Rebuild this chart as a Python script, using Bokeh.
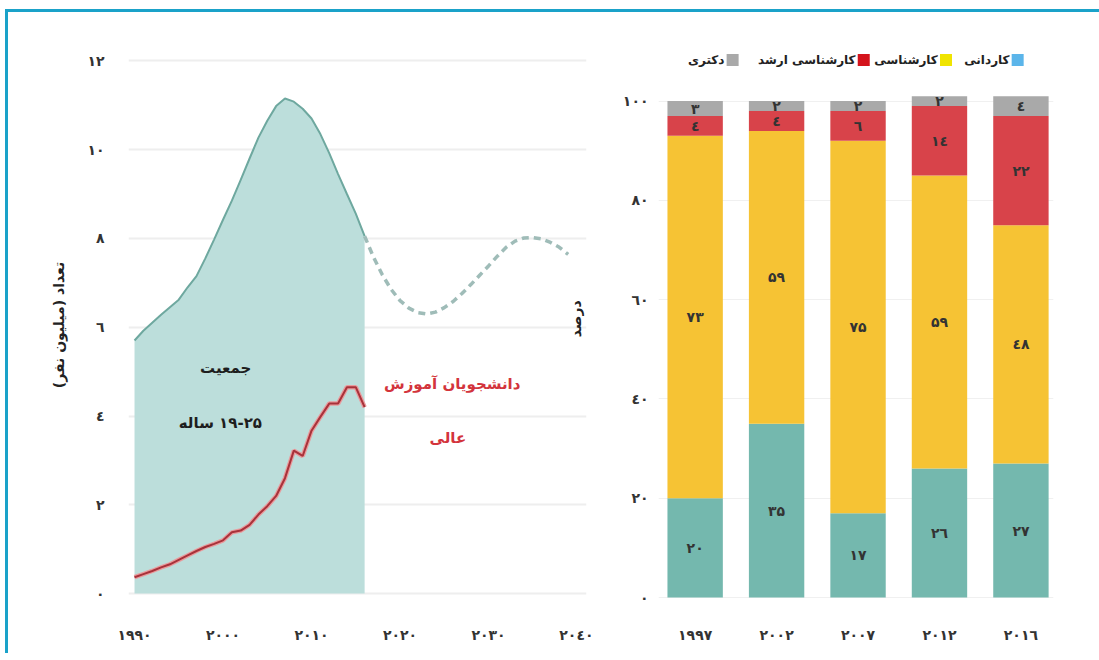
from bokeh.plotting import figure
from bokeh.layouts import row
from bokeh.models import Range1d, FixedTicker, Label, ColumnDataSource
from bokeh.embed import file_html
from bokeh.resources import INLINE
from bokeh.core.properties import value

# ---------------- data: left panel ----------------
years_hist = list(range(1990, 2017))
pop_hist = [5.70, 5.92, 6.10, 6.28, 6.45, 6.62, 6.90, 7.15, 7.55, 7.98,
            8.42, 8.85, 9.32, 9.80, 10.27, 10.65, 10.98, 11.15, 11.08, 10.92,
            10.70, 10.35, 9.92, 9.45, 9.00, 8.56, 8.05]
students = [0.37, 0.44, 0.51, 0.59, 0.66, 0.76, 0.86, 0.96, 1.05, 1.12,
            1.20, 1.38, 1.42, 1.55, 1.78, 1.97, 2.20, 2.60, 3.22, 3.10,
            3.67, 3.98, 4.28, 4.28, 4.65, 4.65, 4.20]
years_proj = list(range(2016, 2040))
pop_proj = [8.05, 7.58, 7.18, 6.85, 6.60, 6.43, 6.33, 6.30, 6.34, 6.44,
            6.58, 6.76, 6.96, 7.17, 7.38, 7.60, 7.80, 7.94, 8.01, 8.02,
            7.99, 7.91, 7.80, 7.64]
left_xticks = [1990, 2000, 2010, 2020, 2030, 2040]
left_xlabels = ["۱۹۹۰", "۲۰۰۰", "۲۰۱۰", "۲۰۲۰", "۲۰۳۰", "۲۰٤۰"]
left_yticks = [0, 2, 4, 6, 8, 10, 12]
left_ylabels = ["۰", "۲", "٤", "٦", "۸", "۱۰", "۱۲"]

# ---------------- data: right panel ----------------
bar_years = ["۱۹۹۷", "۲۰۰۲", "۲۰۰۷", "۲۰۱۲", "۲۰۱٦"]
kardani = [20, 35, 17, 26, 27]
karshenasi = [73, 59, 75, 59, 48]
arshad = [4, 4, 6, 14, 22]
doktora = [3, 2, 2, 2, 4]
series_names = ["کاردانی", "کارشناسی", "کارشناسی ارشد", "دکتری"]
right_yticks = [0, 20, 40, 60, 80, 100]
right_ylabels = ["۰", "۲۰", "٤۰", "٦۰", "۸۰", "۱۰۰"]

FA = "DejaVu Sans"
RLM = "\u200f"

def fa_num(n):
    digits = "۰۱۲۳٤۵٦۷۸۹"
    return "".join(digits[int(c)] for c in str(n))

# ---------------- left figure ----------------
p1 = figure(width=585, height=641, output_backend="svg", toolbar_location=None,
            x_range=Range1d(1989.32, 2041.07), y_range=Range1d(-0.2, 12.3),
            min_border_left=120, min_border_right=7, min_border_top=35,
            min_border_bottom=51)
p1.outline_line_color = None
p1.background_fill_color = "white"
p1.border_fill_color = "white"

p1.varea(x=years_hist, y1=[0] * len(years_hist), y2=pop_hist,
         fill_color="#bcdedb", fill_alpha=1.0)
p1.line(years_hist, pop_hist, line_color="#6ea89f", line_width=2)
p1.line(years_proj, pop_proj, line_color="#9fbcb8", line_width=3.5,
        line_dash="7 5")
p1.line(years_hist, students, line_color="#e99a9c", line_width=4.5)
p1.line(years_hist, students, line_color="#a8323a", line_width=2)

p1.xaxis.ticker = FixedTicker(ticks=left_xticks)
p1.xaxis.major_label_overrides = dict(zip(left_xticks, left_xlabels))
p1.yaxis.ticker = FixedTicker(ticks=left_yticks)
p1.yaxis.major_label_overrides = dict(zip(left_yticks, left_ylabels))
for ax in (p1.xaxis[0], p1.yaxis[0]):
    ax.axis_line_color = None
    ax.major_tick_line_color = None
    ax.minor_tick_line_color = None
    ax.major_label_text_font = FA
    ax.major_label_text_font_size = "14px"
    ax.major_label_text_font_style = "bold"
    ax.major_label_text_color = "#333333"
p1.xaxis.major_label_standoff = 18
p1.yaxis.major_label_standoff = 18
p1.yaxis.axis_label = RLM + "تعداد (میلیون نفر)" + RLM
p1.yaxis.axis_label_text_font = FA
p1.yaxis.axis_label_text_font_size = "14px"
p1.yaxis.axis_label_text_font_style = "bold"
p1.yaxis.axis_label_text_color = "#222222"
p1.yaxis.axis_label_standoff = 17
p1.xgrid.grid_line_color = None
p1.ygrid.grid_line_color = "#eeeeee"
p1.ygrid.grid_line_width = 2

p1.add_layout(Label(x=2000.3, y=5.09, text="جمعیت", text_font=FA,
                    text_font_size="15px", text_font_style="bold",
                    text_color="#1e1e1e", text_align="center",
                    text_baseline="middle"))
p1.add_layout(Label(x=1999.7, y=3.85, text=RLM + "۱۹-۲۵ ساله", text_font=FA,
                    text_font_size="15px", text_font_style="bold",
                    text_color="#1e1e1e", text_align="center",
                    text_baseline="middle"))
p1.add_layout(Label(x=2025.9, y=4.73, text="دانشجویان آموزش", text_font=FA,
                    text_font_size="15px", text_font_style="bold",
                    text_color="#d3343c", text_align="center",
                    text_baseline="middle"))
p1.add_layout(Label(x=2025.4, y=3.51, text="عالی", text_font=FA,
                    text_font_size="15px", text_font_style="bold",
                    text_color="#d3343c", text_align="center",
                    text_baseline="middle"))
p1.add_layout(Label(x=2039.83, y=6.19, text="درصد", text_font=FA,
                    text_font_size="14px", text_font_style="bold",
                    text_color="#222222", text_align="center",
                    text_baseline="middle", angle=1.5708))

# ---------------- right figure ----------------
xs = list(range(len(bar_years)))
src = ColumnDataSource(dict(x=xs, kardani=kardani, karshenasi=karshenasi,
                            arshad=arshad, doktora=doktora))
stack_keys = ["kardani", "karshenasi", "arshad", "doktora"]
bar_colors = ["#74b8ae", "#f6c334", "#d8434a", "#a9a9a9"]
legend_colors = ["#5bb5ea", "#f0e400", "#d4141c", "#a9a9a9"]

p2 = figure(width=506, height=641, output_backend="svg", toolbar_location=None,
            x_range=Range1d(-0.45, 4.4), y_range=Range1d(-1.0, 110.8),
            min_border_left=65, min_border_right=46, min_border_top=35,
            min_border_bottom=51)
p2.outline_line_color = None
p2.background_fill_color = "white"
p2.border_fill_color = "white"

p2.vbar_stack(stack_keys, x="x", width=0.68, color=bar_colors, source=src,
              line_color=None)

# value labels at the middle of every segment
lab_x, lab_y, lab_t = [], [], []
series = [kardani, karshenasi, arshad, doktora]
for i in xs:
    bottom = 0
    for s in series:
        v = s[i]
        lab_x.append(i)
        lab_y.append(bottom + v / 2)
        lab_t.append(fa_num(v))
        bottom += v
p2.text(x=lab_x, y=lab_y, text=lab_t, text_font=value(FA),
        text_font_size="14px", text_font_style="bold", text_color="#333333",
        text_align="center", text_baseline="middle")

# legend (right-to-left, square to the right of each label)
leg_sq_x = [3.96, 3.08, 2.07, 0.46]
leg_y = 108.3
p2.scatter(x=leg_sq_x, y=[leg_y] * 4, marker="square", size=12,
           color=legend_colors, line_color=None)
p2.text(x=[v - 0.1 for v in leg_sq_x], y=[leg_y] * 4, text=series_names,
        text_font=value(FA), text_font_size="12px", text_font_style="bold",
        text_color="#222222", text_align="right", text_baseline="middle")

p2.xaxis.ticker = FixedTicker(ticks=xs)
p2.xaxis.major_label_overrides = dict(zip(xs, bar_years))
p2.yaxis.ticker = FixedTicker(ticks=right_yticks)
p2.yaxis.major_label_overrides = dict(zip(right_yticks, right_ylabels))
for ax in (p2.xaxis[0], p2.yaxis[0]):
    ax.axis_line_color = None
    ax.major_tick_line_color = None
    ax.minor_tick_line_color = None
    ax.major_label_text_font = FA
    ax.major_label_text_font_size = "14px"
    ax.major_label_text_font_style = "bold"
    ax.major_label_text_color = "#333333"
p2.xaxis.major_label_standoff = 18
p2.yaxis.major_label_standoff = 4
p2.xgrid.grid_line_color = None
p2.ygrid.grid_line_color = "#f0f0f0"
p2.ygrid.grid_line_width = 1

layout = row(p1, p2, styles={"border-top": "3px solid #1aa2c9",
                             "border-left": "3px solid #1aa2c9",
                             "margin-left": "5px", "margin-top": "9px",
                             "background-color": "white"})

open("out.html", "w").write(file_html(layout, INLINE))
